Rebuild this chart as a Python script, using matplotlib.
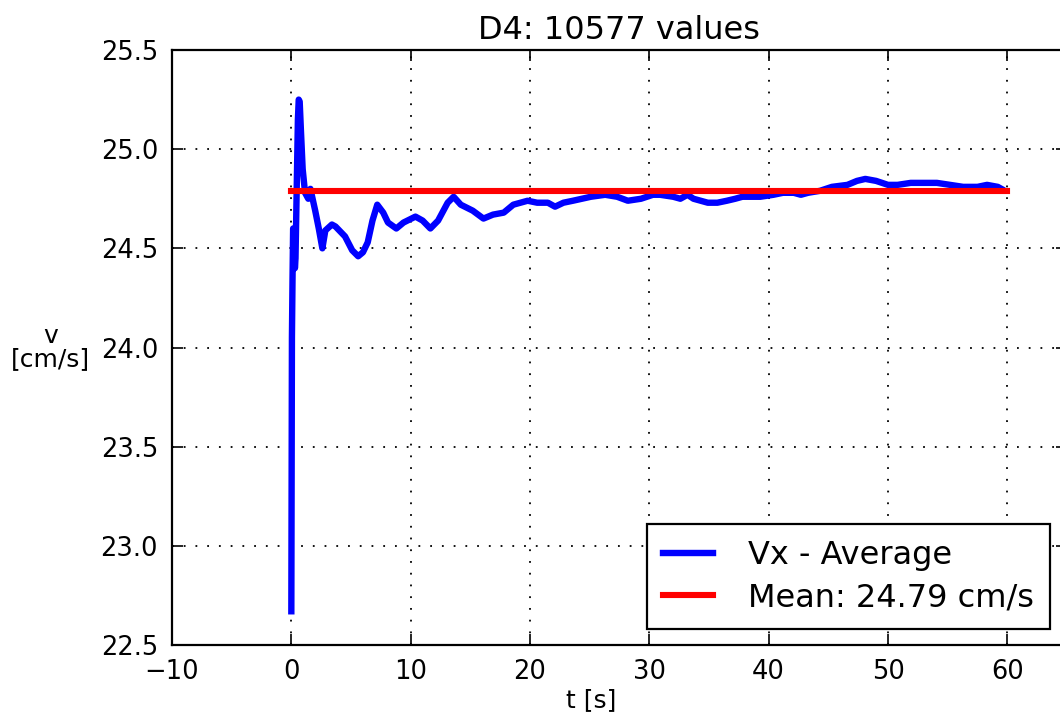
import matplotlib
matplotlib.use("Agg")
import matplotlib.pyplot as plt

# Running average of Vx over time
t_avg = [0.0, 0.03, 0.05, 0.1, 0.15, 0.25, 0.3, 0.35, 0.45, 0.55, 0.62, 0.7, 0.8,
         0.95, 1.15, 1.42, 1.6, 2.0, 2.3, 2.6, 2.85, 3.4, 3.7, 4.5, 5.1, 5.6, 6.0,
         6.4, 6.8, 7.2, 7.7, 8.1, 8.8, 9.4, 10.4, 11.0, 11.65, 12.3, 13.1, 13.6,
         14.2, 15.2, 16.1, 16.9, 17.8, 18.6, 19.8, 20.6, 21.5, 22.1, 22.8, 23.6,
         25.1, 26.3, 27.3, 28.2, 29.3, 30.3, 30.9, 32.0, 32.6, 33.2, 33.7, 34.9,
         35.7, 36.5, 37.2, 37.8, 38.6, 39.3, 40.4, 41.2, 42.1, 42.7, 43.3, 44.3,
         45.3, 46.6, 47.4, 48.1, 49.0, 50.0, 50.8, 51.9, 53.0, 54.1, 55.2, 56.3,
         57.5, 58.3, 59.2, 59.5]
v_avg = [22.67, 23.5, 24.05, 24.35, 24.6, 24.58, 24.4, 24.45, 24.8, 25.15, 25.25,
         25.24, 25.1, 24.9, 24.78, 24.75, 24.80, 24.69, 24.6, 24.50, 24.59, 24.62,
         24.61, 24.56, 24.49, 24.46, 24.48, 24.53, 24.64, 24.72, 24.68, 24.63, 24.60,
         24.63, 24.66, 24.64, 24.60, 24.64, 24.73, 24.76, 24.72, 24.69, 24.65, 24.67,
         24.68, 24.72, 24.74, 24.73, 24.73, 24.71, 24.73, 24.74, 24.76, 24.77, 24.76,
         24.74, 24.75, 24.77, 24.77, 24.76, 24.75, 24.77, 24.75, 24.73, 24.73, 24.74,
         24.75, 24.76, 24.76, 24.76, 24.77, 24.78, 24.78, 24.77, 24.78, 24.79, 24.81,
         24.82, 24.84, 24.85, 24.84, 24.82, 24.82, 24.83, 24.83, 24.83, 24.82, 24.81,
         24.81, 24.82, 24.81, 24.80]

mean_t = [0.0, 60.0]
mean_value = 24.79

x_ticks = [-10, 0, 10, 20, 30, 40, 50, 60]
y_ticks = [22.5, 23.0, 23.5, 24.0, 24.5, 25.0, 25.5]

plt.rcParams['font.family'] = ['DejaVu Sans']

fig = plt.figure(figsize=(10.6, 7.2), dpi=100)
ax = fig.add_axes([172 / 1060, 75 / 720, 895 / 1060, 595 / 720])

ax.plot(t_avg, v_avg, color='#0000ff', lw=4.6, label='Vx - Average', zorder=3,
        solid_joinstyle='round')
ax.plot(mean_t, [mean_value, mean_value], color='#ff0000', lw=4.4,
        label='Mean: %.2f cm/s' % mean_value, zorder=4)

ax.set_xlim(-10, 65)
ax.set_ylim(22.5, 25.5)
ax.set_xticks(x_ticks)
ax.set_yticks(y_ticks)
ax.set_xticklabels(['\u221210', '0', '10', '20', '30', '40', '50', '60'])
ax.set_yticklabels(['%.1f' % y for y in y_ticks])

ax.grid(True, color='black', linestyle=(0, (1, 5.5)), lw=1.3)
ax.tick_params(direction='in', length=8, width=1.2, top=True, right=True,
               labelsize=18.5, pad=10)
for sp in ax.spines.values():
    sp.set_linewidth(1.6)

ax.set_title('D4: 10577 values', fontsize=23, pad=8)
ax.set_xlabel('t [s]', fontsize=18, x=(591 - 172) / 895, labelpad=2)
ax.set_ylabel('v\n[cm/s]', fontsize=18, rotation=0, ha='center', va='center',
              linespacing=1.0)
ax.yaxis.set_label_coords(-0.136, 0.5)

leg = ax.legend(loc='lower right', bbox_to_anchor=(1050 / 1060, 91 / 720),
                bbox_transform=fig.transFigure, borderaxespad=0,
                fontsize=23, fancybox=False, framealpha=1, edgecolor='black',
                handlelength=1.55, handletextpad=1.1, labelspacing=0.35,
                borderpad=0.5)
leg.get_frame().set_linewidth(1.6)

fig.savefig('out.png', dpi=100)
